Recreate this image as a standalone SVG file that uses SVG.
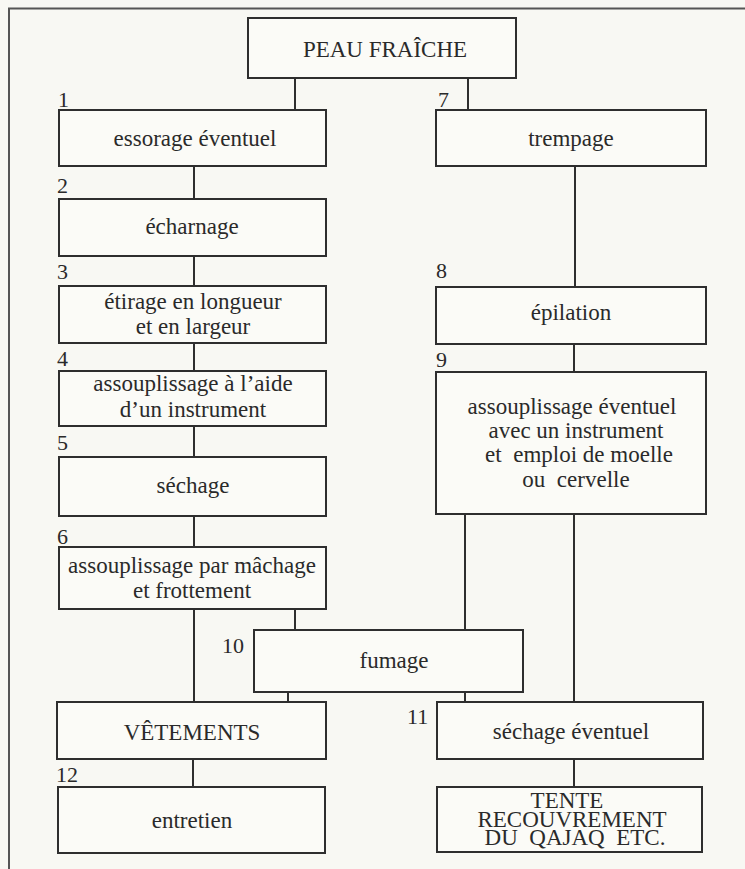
<svg xmlns="http://www.w3.org/2000/svg" width="745" height="869" viewBox="0 0 745 869">
<style>
.bg{fill:#f8f8f3}
.frame{stroke:#555;stroke-width:2;fill:none}
.box{fill:#fbfbf7;stroke:#2e2e2e;stroke-width:2}
.t{font-family:"Liberation Serif",serif;font-size:23px;fill:#2a2a2a;text-anchor:middle}
.n{font-family:"Liberation Serif",serif;font-size:22px;fill:#2a2a2a}
.c{stroke:#2e2e2e;stroke-width:2;fill:none}
</style>
<rect class="bg" x="0" y="0" width="745" height="869"/>
<path class="frame" d="M9,869 V8.5 H745"/>
<g id="connectors">
<path class="c" d="M295,78V110 M468,78V110 M194,166V199 M575,166V287 M194,256V286 M194,343V371 M574,344V372 M194,426V457 M194,516V547 M194,609V702 M295,609V630 M465,514V630 M574,514V702 M288,692V702 M465,692V702 M193,759V787 M574,759V787"/>
</g>
<g id="n0"><rect class="box" x="248" y="18" width="268" height="60"/><text class="t" x="385" y="57">PEAU FRAÎCHE</text></g>
<g id="n1"><text class="n" x="58" y="107">1</text><rect class="box" x="59" y="110" width="267" height="56"/><text class="t" x="195" y="146">essorage éventuel</text></g>
<g id="n7"><text class="n" x="438" y="107">7</text><rect class="box" x="436" y="110" width="270" height="56"/><text class="t" x="571" y="146">trempage</text></g>
<g id="n2"><text class="n" x="57" y="193">2</text><rect class="box" x="59" y="199" width="267" height="57"/><text class="t" x="192" y="234">écharnage</text></g>
<g id="n3"><text class="n" x="57" y="279">3</text><rect class="box" x="59" y="286" width="267" height="57"/><text class="t" x="193" y="309">étirage en longueur</text><text class="t" x="193" y="334">et en largeur</text></g>
<g id="n8"><text class="n" x="436" y="278">8</text><rect class="box" x="436" y="287" width="270" height="57"/><text class="t" x="571" y="320">épilation</text></g>
<g id="n4"><text class="n" x="57" y="366">4</text><rect class="box" x="59" y="371" width="267" height="55"/><text class="t" x="193" y="391">assouplissage à l’aide</text><text class="t" x="193" y="417">d’un instrument</text></g>
<g id="n9"><text class="n" x="436" y="367">9</text><rect class="box" x="436" y="372" width="270" height="142"/><text class="t" x="572" y="414">assouplissage éventuel</text><text class="t" x="576" y="438">avec un instrument</text><text class="t" x="579" y="462" xml:space="preserve">et  emploi de moelle</text><text class="t" x="576" y="487" xml:space="preserve">ou  cervelle</text></g>
<g id="n5"><text class="n" x="57" y="450">5</text><rect class="box" x="59" y="457" width="267" height="59"/><text class="t" x="193" y="493">séchage</text></g>
<g id="n6"><text class="n" x="57" y="544">6</text><rect class="box" x="59" y="547" width="267" height="62"/><text class="t" x="192" y="573">assouplissage par mâchage</text><text class="t" x="192" y="598">et frottement</text></g>
<g id="n10"><text class="n" x="222" y="653">10</text><rect class="box" x="254" y="630" width="269" height="62"/><text class="t" x="394" y="668">fumage</text></g>
<g id="nv"><rect class="box" x="57" y="702" width="269" height="57"/><text class="t" x="192" y="740">VÊTEMENTS</text></g>
<g id="n11"><text class="n" x="407" y="724">11</text><rect class="box" x="437" y="702" width="266" height="57"/><text class="t" x="571" y="739">séchage éventuel</text></g>
<g id="n12"><text class="n" x="56" y="782">12</text><rect class="box" x="58" y="787" width="267" height="66"/><text class="t" x="192" y="828">entretien</text></g>
<g id="nt"><rect class="box" x="437" y="787" width="265" height="65"/><text class="t" x="567" y="808">TENTE</text><text class="t" x="572" y="827">RECOUVREMENT</text><text class="t" x="575" y="845" xml:space="preserve">DU  QAJAQ  ETC.</text></g>
</svg>
